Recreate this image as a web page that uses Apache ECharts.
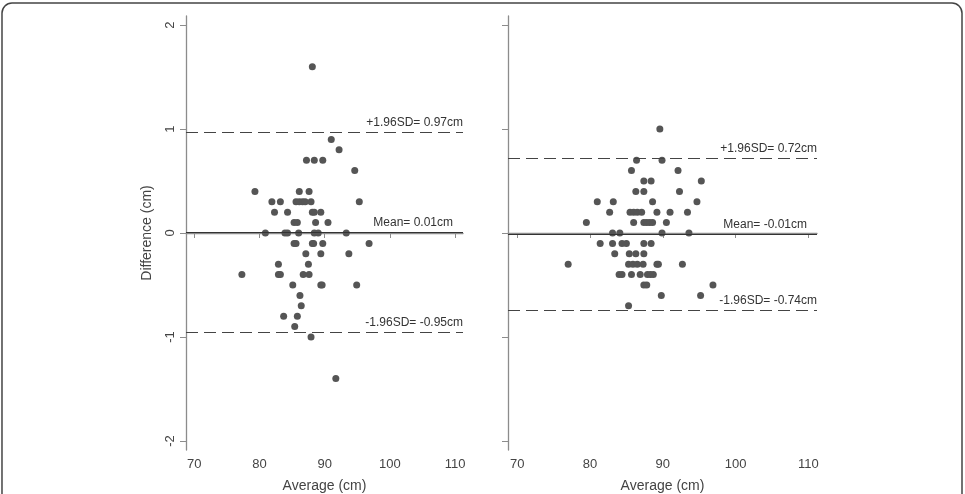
<!DOCTYPE html>
<html>
<head>
<meta charset="utf-8">
<script src="https://cdn.jsdelivr.net/npm/echarts@6/dist/echarts.min.js"></script>
<style>
  html, body { margin: 0; padding: 0; background: #fff; }
  #chart { width: 965px; height: 494px; }
</style>
</head>
<body>
<div id="chart"></div>
<script>
// left panel: average (cm) vs difference (cm)
var leftAvg = [88.1, 91.0, 92.2, 87.2, 88.4, 89.7, 94.6, 79.3, 86.1, 87.6,
  81.9, 83.2, 85.6, 86.1, 86.6, 87.0, 87.9, 95.3, 82.3, 84.3, 88.1, 88.4, 89.4,
  85.3, 85.8, 88.6, 90.5, 80.9, 83.9, 84.3, 86.0, 88.4, 89.0, 93.3,
  85.3, 85.6, 88.1, 88.3, 89.7, 96.8, 87.1, 89.4, 93.7, 82.9, 87.5,
  77.3, 82.9, 83.2, 86.7, 87.6, 85.1, 89.4, 89.6, 94.9, 86.2, 86.4,
  83.7, 85.8, 85.4, 87.9, 91.7];
var leftDiff = [1.6, 0.9, 0.8, 0.7, 0.7, 0.7, 0.6, 0.4, 0.4, 0.4,
  0.3, 0.3, 0.3, 0.3, 0.3, 0.3, 0.3, 0.3, 0.2, 0.2, 0.2, 0.2, 0.2,
  0.1, 0.1, 0.1, 0.1, 0, 0, 0, 0, 0, 0, 0,
  -0.1, -0.1, -0.1, -0.1, -0.1, -0.1, -0.2, -0.2, -0.2, -0.3, -0.3,
  -0.4, -0.4, -0.4, -0.4, -0.4, -0.5, -0.5, -0.5, -0.5, -0.6, -0.7,
  -0.8, -0.8, -0.9, -1.0, -1.4];

// right panel
var rightAvg = [89.6, 86.4, 89.9, 85.7, 92.1, 87.4, 88.4, 95.3, 86.3, 87.4, 92.3,
  81.0, 83.2, 88.6, 94.7, 82.7, 85.5, 86.0, 86.5, 87.1, 89.2, 91.0, 93.4,
  79.5, 86.0, 87.4, 87.8, 88.2, 88.6, 90.5, 83.1, 84.1, 89.9, 93.6,
  81.4, 83.1, 84.4, 85.0, 87.4, 88.4, 83.4, 85.4, 86.3, 87.4,
  77.0, 85.3, 85.9, 86.5, 87.3, 89.2, 89.4, 92.7,
  84.0, 84.4, 85.7, 86.9, 87.9, 88.3, 88.7, 87.4, 87.8, 96.9, 89.8, 95.2, 85.3];
var rightDiff = [1.0, 0.7, 0.7, 0.6, 0.6, 0.5, 0.5, 0.5, 0.4, 0.4, 0.4,
  0.3, 0.3, 0.3, 0.3, 0.2, 0.2, 0.2, 0.2, 0.2, 0.2, 0.2, 0.2,
  0.1, 0.1, 0.1, 0.1, 0.1, 0.1, 0.1, 0, 0, 0, 0,
  -0.1, -0.1, -0.1, -0.1, -0.1, -0.1, -0.2, -0.2, -0.2, -0.2,
  -0.3, -0.3, -0.3, -0.3, -0.3, -0.3, -0.3, -0.3,
  -0.4, -0.4, -0.4, -0.4, -0.4, -0.4, -0.4, -0.5, -0.5, -0.5, -0.6, -0.6, -0.7];

// limits of agreement: [upper, mean, lower]
var leftLimits = [0.97, 0.01, -0.95];
var rightLimits = [0.72, -0.01, -0.74];
var limitLabels = ['+1.96SD= ', 'Mean= ', '-1.96SD= '];

var xTicks = [70, 80, 90, 100, 110];
var yTicks = [-2, -1, 0, 1, 2];

function pairs(xs, ys) {
  var out = [];
  for (var i = 0; i < xs.length; i++) out.push([xs[i], ys[i]]);
  return out;
}

var textColor = '#444';
var axisColor = '#8c8c8c';
var font = 'Liberation Sans';

function makeX(idx) {
  return {
    type: 'value', gridIndex: idx, min: 68.73, max: 111.2,
    name: 'Average (cm)', nameLocation: 'middle', nameGap: 29,
    nameTextStyle: { color: textColor, fontSize: 14, fontFamily: font },
    axisLine: { lineStyle: { color: axisColor, width: 1.3 } },
    axisTick: { customValues: xTicks, length: 5, lineStyle: { color: axisColor } },
    axisLabel: { customValues: xTicks, color: textColor, fontSize: 13, margin: 8, fontFamily: font },
    splitLine: { show: false }
  };
}

function makeY(idx, showLabels) {
  return {
    type: 'value', gridIndex: idx, min: -2.087, max: 2.087,
    name: showLabels ? 'Difference (cm)' : '', nameLocation: 'middle', nameGap: 32, nameRotate: 90,
    nameTextStyle: { color: textColor, fontSize: 14, fontFamily: font },
    axisLine: { lineStyle: { color: axisColor, width: 1.3 } },
    axisTick: { customValues: yTicks, length: 6, lineStyle: { color: axisColor } },
    axisLabel: { show: showLabels, customValues: yTicks, rotate: 90, color: textColor, fontSize: 13, margin: 9, fontFamily: font },
    splitLine: { show: false }
  };
}

function makeLines(limits) {
  return limits.map(function (v, i) {
    return {
      yAxis: v,
      lineStyle: { type: i === 1 ? 'solid' : [12, 6], color: i === 1 ? '#333' : '#444', width: 1 },
      label: {
        show: true, position: 'insideEndTop', distance: [i === 1 ? 10 : 0, 3],
        formatter: limitLabels[i] + v.toFixed(2) + 'cm',
        color: '#333', fontSize: 12, fontFamily: font
      }
    };
  });
}

function makeSeries(idx, xs, ys, limits) {
  return {
    type: 'scatter', xAxisIndex: idx, yAxisIndex: idx,
    data: pairs(xs, ys), symbolSize: 7,
    itemStyle: { color: '#555', opacity: 1 },
    markLine: { silent: true, symbol: 'none', animation: false, data: makeLines(limits) }
  };
}

var chart = echarts.init(document.getElementById('chart'));
chart.setOption({
  animation: false,
  backgroundColor: '#fff',
  graphic: [{
    type: 'rect', shape: { x: 2, y: 3, width: 960, height: 540, r: 10 },
    style: { fill: 'none', stroke: '#444', lineWidth: 1.5 }, silent: true
  }],
  grid: [
    { left: 186, top: 16, width: 277, height: 434, outerBoundsMode: 'none' },
    { left: 508, top: 16, width: 309, height: 434, outerBoundsMode: 'none' }
  ],
  xAxis: [makeX(0), makeX(1)],
  yAxis: [makeY(0, true), makeY(1, false)],
  series: [
    makeSeries(0, leftAvg, leftDiff, leftLimits),
    makeSeries(1, rightAvg, rightDiff, rightLimits)
  ]
});
</script>
</body>
</html>
